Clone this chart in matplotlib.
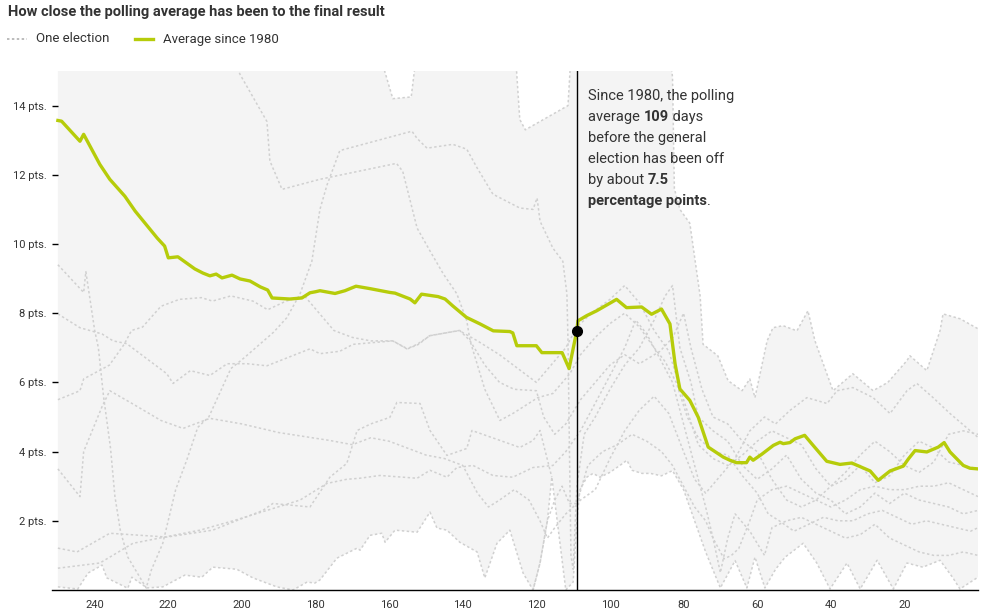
import numpy as np
import matplotlib
matplotlib.use("Agg")
import matplotlib.pyplot as plt
from matplotlib.lines import Line2D

plt.rcParams['font.family'] = ['Roboto', 'DejaVu Sans']

# average error of the polling average since 1980 (days before election, pts.)
avg_days = [250, 249, 244, 243, 238.6, 235.9, 231.8, 229, 225, 223, 221, 220, 217.4, 212.8, 210.6,
            208.7, 207, 205.4, 202.7, 200.5, 197.8, 195, 193, 191.8, 187, 183.7, 181.5, 180, 178.8,
            174.7, 172, 169, 165.2, 159.8, 158.4, 154.3, 153, 151.2, 146.7, 144.8, 142.7, 139, 135.3,
            131.7, 127.2, 126.4, 125.3, 120, 118.5, 113, 111.1, 109, 108.7, 106.3, 103.6, 98.2, 95.5,
            91.4, 88.7, 86, 83.7, 82.3, 81, 78.3, 76, 73.3, 69.2, 67.4, 65.6, 62.9, 62, 61.1, 58.8,
            55.6, 53.8, 52.9, 51.1, 49.7, 47.1, 44.8, 41.1, 37.5, 34.3, 29.3, 27.1, 23.9, 20.3, 18.9,
            17.1, 13.9, 10.8, 9.2, 7.6, 4, 2.2, 0]
avg_vals = [13.57, 13.55, 12.97, 13.17, 12.3, 11.87, 11.38, 10.95, 10.43, 10.17, 9.94, 9.6, 9.63, 9.28, 9.16,
            9.08, 9.13, 9.02, 9.1, 8.99, 8.93, 8.76, 8.67, 8.44, 8.41, 8.44, 8.59, 8.62, 8.65,
            8.57, 8.65, 8.78, 8.71, 8.6, 8.58, 8.41, 8.3, 8.55, 8.48, 8.41, 8.21, 7.88, 7.69,
            7.49, 7.47, 7.43, 7.06, 7.06, 6.86, 6.86, 6.4, 7.5, 7.78, 7.93, 8.07, 8.4, 8.16,
            8.18, 7.97, 8.12, 7.69, 6.53, 5.81, 5.48, 4.99, 4.13, 3.84, 3.75, 3.68, 3.68, 3.84, 3.75, 3.92,
            4.18, 4.27, 4.23, 4.26, 4.37, 4.47, 4.18, 3.72, 3.63, 3.67, 3.44, 3.17, 3.44, 3.58, 3.79,
            4.03, 3.99, 4.13, 4.26, 3.99, 3.6, 3.52, 3.5]

# upper and lower edge of the range of all elections
top_days = [250, 164, 159, 154, 152, 126, 124.5, 123, 111.4, 110.3, 84, 83, 82.5, 81, 78.3, 75.5, 74.7,
            70.7, 67.9, 64.1, 62, 60.6, 57.3, 55.7, 53, 49.2, 46.2, 44.3, 39.4, 34, 28.5, 24.5, 19.3,
            18.5, 13.9, 10.3, 9.5, 4.9, 0]
top_vals = [16, 16, 14.2, 14.25, 16, 16, 13.6, 13.3, 14.0, 16, 16, 14.8, 11.6, 11.0, 10.6, 8.5, 7.1,
            6.77, 6.05, 5.76, 6.1, 5.56, 7.2, 7.58, 7.64, 7.49, 8.07, 7.2, 5.76, 6.25, 5.76, 6.0, 6.63,
            6.77, 6.34, 7.5, 7.98, 7.84, 7.55]
low_days = [250, 244.6, 241.8, 238, 236.7, 231, 229.9, 225.8, 221.5, 215.5, 210.9, 207.9, 201.4, 197,
            190.5, 186.1, 182.3, 180.2, 178.8, 174.2, 168.7, 167.9, 165.2, 162, 161.1, 158.4, 152.4,
            148.9, 147, 144.3, 140.8, 136.1, 134, 130.7, 127.2, 123.6, 120.9, 119, 117, 115.8, 112,
            110, 109, 108.2, 106.3, 104.6, 102.7, 100, 96.5, 95.4, 94, 91.3, 89, 86, 83, 80, 77, 74,
            70, 66, 62.8, 60.6, 57.9, 55, 52.4, 47.5, 43.8, 40.2, 35.6, 32, 27.4, 23, 19.3, 15, 10.3,
            6.8, 4.9, 0]
low_vals = [0.09, 0.03, 0.49, 0.72, 0.35, 0.05, 0.37, 0.06, 0.09, 0.43, 0.37, 0.66, 0.6, 0.35,
            0.09, 0.0, 0.23, 0.2, 0.29, 0.92, 1.21, 1.15, 1.58, 1.64, 1.38, 1.73, 1.67,
            2.25, 1.79, 1.73, 1.38, 1.1, 0.35, 1.35, 1.73, 0.49, 0.0, 0.78, 2.0, 3.26, 0.0,
            0.23, 2.0, 2.88, 3.26, 3.37, 3.26, 3.4, 3.66, 3.75, 3.46, 3.37, 3.37, 3.3, 3.45, 2.9, 2.0, 1.1,
            0.06, 0.85, 0.06, 0.95, 0.06, 0.6, 0.95, 1.35, 0.78, 0.03, 0.78, 0.03, 0.86, 0.03, 0.78, 0.66, 0.86,
            0.35, 0.03, 0.37]

# individual elections inside the range (days, pts.)
e1_days = [250, 205, 200.5, 193.2, 192.4, 189.1, 178.8, 158, 156.3, 152.4, 148.9, 145.3, 141.6, 138.9,
           138, 136, 134, 129.9, 126.4, 119.6, 115.5, 110.9, 108, 104, 100, 96, 92, 88, 85, 82, 79, 76,
           72, 68, 64, 60, 57, 54, 50, 46, 42, 38, 34, 30, 26, 22, 18, 14, 10, 6, 2, 0]
e1_vals = [16, 16, 14.9, 13.54, 12.4, 11.58, 11.87, 12.33, 12.1, 10.46, 9.8, 9.14, 8.56, 7.78,
           7.2, 6.5, 5.8, 4.9, 5.1, 5.56, 5.68, 6.25, 6.8, 7.3, 7.7, 8.0, 7.6, 7.0, 6.6, 6.0, 5.0, 4.4,
           4.0, 3.9, 3.3, 2.8, 2.2, 2.0, 1.7, 1.9, 2.1, 2.0, 2.0, 2.2, 2.3, 2.1, 1.9, 2.0, 1.9, 1.8, 1.7, 1.8]
e3_days = [250, 244.8, 235.9, 220.4, 207.9, 202.5, 194.3, 191.6, 181.5, 176.1, 171.5, 168.7, 165,
           159.8, 157.9, 151.6, 148.9, 144.3, 138.9, 137.5, 124.5, 120.9, 119, 115.8]
e3_vals = [1.21, 1.1, 1.64, 1.53, 1.73, 1.96, 2.3, 2.5, 2.4, 3.26, 3.66, 4.61, 4.8,
           4.99, 5.42, 5.39, 4.61, 3.89, 4.09, 4.61, 4.12, 4.32, 4.61, 3.26]
e4_days = [120.9, 119, 117, 115, 113, 111, 109, 106, 102, 98, 94, 90, 86, 83, 80, 77, 74, 72, 69,
           67, 65, 62, 60, 56, 52, 48, 44, 40, 36, 32, 28, 24, 20, 16, 12, 8, 4, 0]
e4_vals = [0.0, 0.78, 2.0, 2.6, 3.0, 2.5, 2.5, 3.6, 4.0, 4.2, 4.5, 4.3, 4.0, 3.6, 3.0, 2.4, 2.0, 1.5, 0.9,
           1.0, 1.2, 2.0, 2.6, 2.9, 3.0, 2.8, 2.6, 2.4, 2.6, 2.9, 3.0, 2.9, 2.9, 3.0, 3.0, 3.1, 2.9, 2.7]
e5_days = [250, 244, 243, 236, 232, 230, 227, 222, 217, 211, 208, 203, 197, 193, 188, 183, 179, 175,
           170, 165, 159, 155, 152, 149, 141, 136, 130, 125, 120, 116, 112, 109, 105, 100, 96, 92, 88,
           84, 80, 76, 72, 68, 64, 60, 56, 52, 48, 44, 40, 36, 32, 28, 24, 20, 16, 12, 8, 4, 0]
e5_vals = [5.5, 5.76, 6.1, 6.5, 7.1, 7.5, 7.6, 8.2, 8.4, 8.45, 8.35, 8.5, 8.35, 8.1, 8.35, 8.5, 8.0, 7.5,
           7.3, 7.2, 7.2, 6.97, 7.1, 7.35, 7.5, 7.2, 6.8, 6.4, 6.0, 6.5, 7.0, 7.6, 8.0, 8.4, 8.8, 8.3, 7.5,
           6.9, 5.5, 4.2, 3.8, 3.6, 3.9, 4.3, 4.6, 4.4, 4.2, 3.5, 3.0, 3.2, 3.6, 3.1, 3.3, 3.9, 4.3, 4.1, 3.7, 3.6, 3.5]
e6_days = [250, 243, 242.4, 240, 239, 237.6, 235.7, 234.5, 233, 231, 226, 224.6, 221.5, 218, 215, 212,
           209, 203, 199.5, 191.4, 187.8, 184.2, 181, 178.8, 176.9, 173.4, 153.8, 152.4, 149.7, 142.7,
           138.9, 136.1, 131.8, 124.5, 120.9, 119.8, 119, 115.5, 112.8, 111.7, 111.4, 111, 110.6, 110,
           109, 107, 104, 100, 96, 92, 88, 85, 83, 81, 78, 76, 72, 68, 64, 60, 56, 52, 48, 44, 40, 36,
           32, 28, 24, 20, 16, 12, 8, 4, 0]
e6_vals = [9.4, 8.6, 9.2, 7.5, 7.0, 5.6, 4.1, 2.7, 1.7, 0.95, 0.06, 0.58, 1.35, 2.9, 3.75, 4.7,
           5.0, 6.4, 6.7, 7.45, 7.87, 8.56, 9.5, 11.0, 11.7, 12.7, 13.26, 13.05, 12.77, 12.88,
           12.74, 12.2, 11.44, 11.04, 11.0, 11.33, 10.66, 9.88, 9.5, 8.56, 7.2, 4.0, 1.0, 0.6,
           3.0, 4.5, 5.0, 5.8, 6.5, 7.0, 7.8, 8.5, 8.8, 7.0, 6.0, 5.0, 4.6, 4.3, 3.6, 3.2, 3.5, 3.9, 3.2, 2.8, 2.6, 2.2,
           2.4, 2.8, 2.5, 2.8, 2.6, 2.5, 2.4, 2.2, 2.3]
e7_days = [250, 238.6, 235.9, 229.6, 211.4, 202.4, 193.2, 184.2, 176.9, 171.5, 168, 162.5, 152.4,
           148.9, 144.3, 141.6, 137.2, 131.8, 126.4, 120.9, 115.5, 112, 108, 104, 100, 96, 93, 90, 86,
           83, 80, 77, 74, 72, 70, 68, 66, 62, 58, 56, 52, 48, 44, 40, 36, 32, 28, 24, 20, 16, 12, 8, 4, 0]
e7_vals = [0.63, 0.78, 0.95, 1.35, 1.73, 2.0, 2.3, 2.6, 3.08, 3.2, 3.23, 3.31, 3.23,
           3.46, 3.26, 3.54, 3.6, 3.31, 3.26, 3.54, 3.6, 4.0, 4.6, 5.4, 6.2, 7.0, 7.8, 7.4, 6.6,
           6.0, 4.8, 3.6, 2.4, 1.5, 0.5, 1.5, 2.2, 1.7, 1.0, 1.8, 2.0, 2.1, 1.9, 1.7, 1.5, 1.6, 1.9, 1.5, 1.3, 1.1, 1.0, 1.0, 1.1, 1.0]
e8_days = [250, 244, 238, 235, 231.3, 220.4, 218.7, 214, 208.7, 204, 198.6, 193.2, 181.5, 178.8,
           173.4, 169.8, 159, 155.2, 152.4, 148.9, 140.8, 138, 134, 130, 126, 120, 118, 115, 112, 108,
           104, 100, 96, 92, 86.4, 82.9, 80, 78, 75, 72, 68, 64, 60, 56, 52, 48, 44, 40, 36, 32, 28, 24,
           20, 16, 12, 8, 4, 0]
e8_vals = [7.98, 7.58, 7.4, 7.2, 7.12, 6.25, 5.97, 6.34, 6.2, 6.54, 6.54, 6.48, 6.97, 6.83,
           6.9, 7.1, 7.2, 6.97, 7.1, 7.35, 7.5, 7.2, 6.5, 6.0, 5.8, 5.76, 5.0, 4.5, 4.8, 5.5,
           6.0, 6.5, 6.8, 6.54, 6.9, 7.3, 8.0, 7.0, 5.8, 5.0, 4.8, 4.3, 4.0, 3.2, 2.6, 2.4, 2.6, 3.0, 3.4, 3.9, 4.3, 4.0,
           3.6, 3.4, 3.7, 4.5, 4.6, 4.5]
e9_days = [250, 244, 243, 238, 235.9, 230, 222, 216, 208.7, 200, 190, 176, 170, 165, 160, 155, 150,
           145, 140, 136, 133, 130, 126, 122, 119, 117, 115, 112, 108, 104, 100, 96, 92, 88, 84, 80,
           77, 74, 70, 66, 62, 58, 55, 51.1, 46.5, 41, 38.3, 34, 28.5, 23.9, 19.3, 16.6, 12.2, 7.6, 0]
e9_vals = [3.5, 2.7, 4.0, 5.3, 5.76, 5.4, 4.9, 4.67, 4.96, 4.8, 4.55, 4.32, 4.2, 4.4, 4.3, 4.1, 3.9,
           3.8, 3.6, 2.8, 2.4, 2.6, 2.9, 2.6, 2.0, 1.5, 1.8, 2.2, 2.6, 2.9, 3.8, 4.6, 5.2, 5.6, 5.1, 4.0,
           3.2, 2.8, 3.3, 3.8, 4.6, 5.0, 4.8, 5.19, 5.56, 5.39, 5.76, 5.85, 5.56, 5.1, 5.76, 5.97, 5.56, 5.1, 4.41]

elections = [(top_days, top_vals), (low_days, low_vals), (e1_days, e1_vals), (e3_days, e3_vals),
             (e4_days, e4_vals), (e5_days, e5_vals), (e6_days, e6_vals), (e7_days, e7_vals),
             (e8_days, e8_vals), (e9_days, e9_vals)]

yticks = [2, 4, 6, 8, 10, 12, 14]
xticks = [240, 220, 200, 180, 160, 140, 120, 100, 80, 60, 40, 20]
marker_day = 109
marker_val = 7.5

text_color = '#333333'
green = '#b6cc0a'
grey_line = '#d0d0d0'

W, H = 990, 614
fig = plt.figure(figsize=(W / 100, H / 100), dpi=100)
ax = fig.add_axes([52 / W, (H - 590) / H, (978 - 52) / W, (590 - 71) / H])

# shaded range
ax.fill(np.r_[top_days, low_days[::-1]], np.r_[top_vals, low_vals[::-1]],
        color='#f4f4f4', lw=0, zorder=1)

for d, v in elections:
    ax.plot(d, v, color=grey_line, lw=1.1, ls=(0, (1.6, 1.6)), zorder=2)

ax.plot(avg_days, avg_vals, color=green, lw=2.4, zorder=4, solid_joinstyle='round')

ax.axvline(marker_day, color='black', lw=1, zorder=5)
ax.plot([marker_day], [marker_val], 'o', color='black', ms=7, zorder=6)

ax.set_xlim(251.6, 0)
ax.set_ylim(0, 15)
for s in ['top', 'right', 'left']:
    ax.spines[s].set_visible(False)
ax.spines['bottom'].set_color('black')
ax.spines['bottom'].set_linewidth(1)

ax.set_yticks(yticks)
ax.set_yticklabels([f'{t} pts.' for t in yticks])
ax.tick_params(axis='y', direction='in', length=4, width=1, color='black', pad=4,
               labelsize=8, labelcolor=text_color)
ax.set_xticks(xticks)
ax.tick_params(axis='x', length=0, pad=7, labelsize=8, labelcolor=text_color)

# title and legend
fig.text(8 / W, 1 - 12 / H, 'How close the polling average has been to the final result',
         fontsize=10.5, fontweight='bold', color=text_color, va='center', ha='left')
fig.add_artist(Line2D([7 / W, 27 / W], [1 - 39 / H] * 2, color='#aaaaaa', lw=1.1, ls=(0, (1.6, 1.6))))
fig.text(36 / W, 1 - 39 / H, 'One election', fontsize=9.5, color=text_color, va='center')
fig.add_artist(Line2D([135 / W, 153 / W], [1 - 39 / H] * 2, color=green, lw=2.4))
fig.text(163 / W, 1 - 39 / H, 'Average since 1980', fontsize=9.5, color=text_color, va='center')

# annotation with bold runs
note = [
    [('Since 1980, the polling', 'normal')],
    [('average ', 'normal'), ('109', 'bold'), (' days', 'normal')],
    [('before the general', 'normal')],
    [('election has been off', 'normal')],
    [('by about ', 'normal'), ('7.5', 'bold')],
    [('percentage points', 'bold'), ('.', 'normal')],
]
x0 = 588 / W
for i, parts in enumerate(note):
    y = 1 - (100 + 21 * i) / H
    prev = None
    for txt, wt in parts:
        if prev is None:
            prev = fig.text(x0, y, txt, fontsize=10.5, fontweight=wt, color=text_color,
                            va='baseline', ha='left')
        else:
            prev = ax.annotate(txt, xy=(1, 0), xycoords=prev, fontsize=10.5, fontweight=wt,
                               color=text_color, va='bottom', ha='left')

fig.savefig('out.png', dpi=100)
